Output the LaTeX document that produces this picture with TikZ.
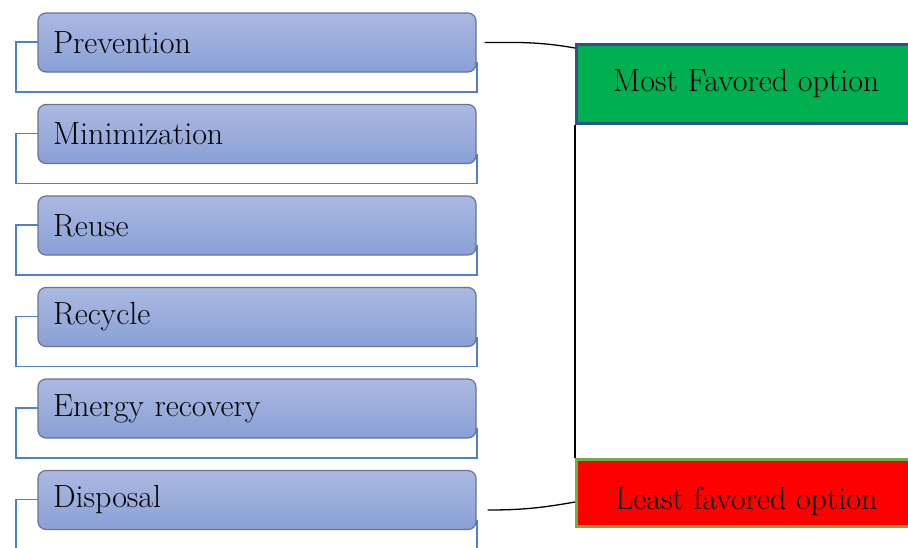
\documentclass[tikz,border=0pt]{standalone}
\usepackage{tikz}
\usepackage{amsmath}
\definecolor{stepTop}{RGB}{171,185,225}
\definecolor{stepBot}{RGB}{137,160,214}
\definecolor{stepEdge}{RGB}{104,116,146}
\definecolor{outlBlue}{RGB}{79,129,201}
\definecolor{favGreen}{RGB}{0,176,80}
\definecolor{favEdge}{RGB}{47,82,143}
\definecolor{leastEdge}{RGB}{112,173,71}

\begin{document}
\begin{tikzpicture}[x=1pt,y=-1pt,
  stepbox/.style={rounded corners=8pt,draw=stepEdge,line width=1.2pt,
    top color=stepTop,bottom color=stepBot,
    minimum height=59pt,text width=408pt,inner xsep=15pt,align=left,
    font=\fontsize{32}{36}\selectfont},
  outl/.style={draw=outlBlue,line width=1.2pt},
  optbox/.style={anchor=north west,minimum width=340pt,line width=2.5pt,
    font=\fontsize{32}{36}\selectfont},
  link/.style={black,line width=1.3pt}]
\useasboundingbox (0,0) rectangle (908,547);
% outlines behind the steps:
\foreach \i in {0,...,5}
  \draw[outl] (38,42+91.5*\i) -- (16,42+91.5*\i) -- (16,92+91.5*\i)
    -- (477,92+91.5*\i) -- (477,62+91.5*\i);
% steps:
\node[stepbox] (prev) at (257,42.5) {Prevention};
\node[stepbox] (mini) at (257,134) {Minimization};
\node[stepbox] (reuse) at (257,225.5) {Reuse};
\node[stepbox] (recyc) at (257,317) {Recycle};
\node[stepbox] (energy) at (257,408.5) {Energy recovery};
\node[stepbox] (disp) at (257,500) {Disposal};
% options:
\node[optbox,draw=favEdge,fill=favGreen,minimum height=79pt] (most) at (575,43) {Most Favored option};
\node[optbox,draw=leastEdge,fill=red,minimum height=67pt,text height=33pt,text depth=0pt] (least) at (575,458) {Least favored option};
% connectors:
\draw[link,shorten <=8pt] (prev.east) to[out=0,in=170] ([yshift=-5pt]most.north west);
\draw[link] (most.south west) -- (least.north west);
\draw[link] ([xshift=11pt,yshift=-10pt]disp.east) to[out=0,in=190] ([yshift=-44pt]least.north west);
\end{tikzpicture}
\end{document}
